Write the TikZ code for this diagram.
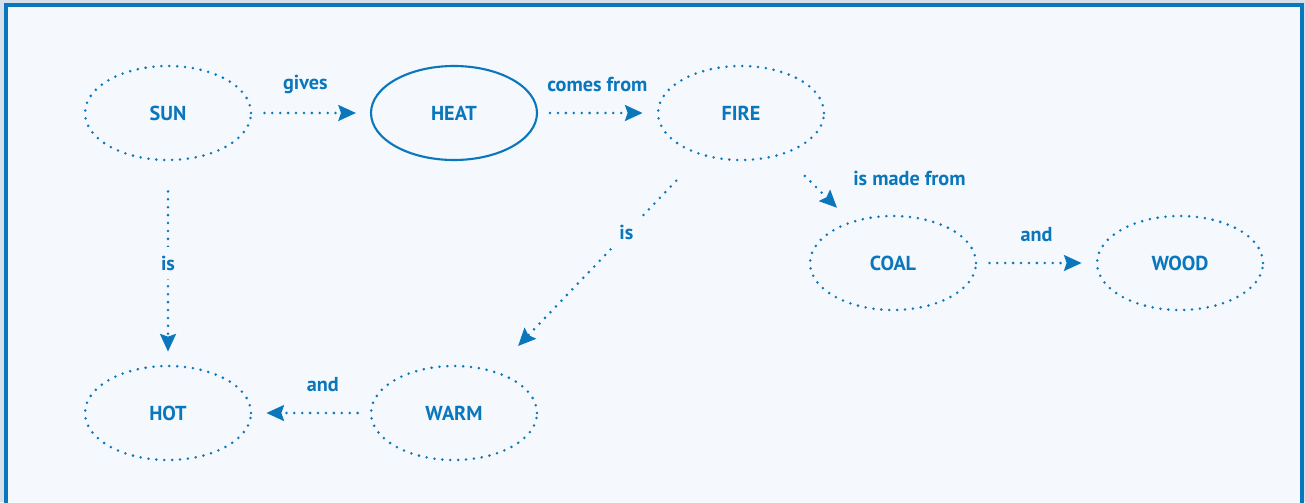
\documentclass[tikz,border=0pt]{standalone}
\usepackage{fontspec}
\setmainfont{PT Sans}
\usetikzlibrary{arrows.meta,shapes.geometric}

\definecolor{mapblue}{HTML}{0A77BD}
\definecolor{mapbg}{HTML}{F5F8FC}
\definecolor{mapedge}{HTML}{D6E0ED}

\begin{document}
\begin{tikzpicture}[
  font=\fontsize{11.5}{13}\selectfont\bfseries,
  dotline/.style={line width=1.6pt, dash pattern=on 0pt off 4.5pt, line cap=round},
  idea/.style={ellipse, draw=mapblue, dotline, text=mapblue,
    minimum width=3.32cm, minimum height=1.88cm, inner sep=0pt},
  link/.style={draw=mapblue, dotline, -{Stealth[length=10pt,width=9pt,inset=1.5pt]},
    shorten <=0.24cm, shorten >=0.28cm},
  tag/.style={text=mapblue},
  word/.style={text=mapblue, fill=mapbg, inner sep=5pt}
]
  % Frame
  \clip (0,0) rectangle (26.1,10.04);
  \fill[mapedge] (0,0) rectangle (26.1,10.04);
  \draw[mapblue, line width=2pt, fill=mapbg] (0.12,-0.5) rectangle (26.04,9.94);

  % Concepts
  \node[idea] (SUN)  at (3.36, 7.78) {SUN};
  \node[idea, solid, line width=1.2pt] (HEAT) at (9.08, 7.78) {HEAT};
  \node[idea] (FIRE) at (14.82, 7.78) {FIRE};
  \node[idea] (COAL) at (17.86, 4.78) {COAL};
  \node[idea] (WOOD) at (23.6, 4.78) {WOOD};
  \node[idea] (HOT)  at (3.36, 1.78) {HOT};
  \node[idea] (WARM) at (9.08, 1.78) {WARM};

  % Links across the top
  \draw[link] (SUN) -- node[tag, pos=.45, yshift=0.58cm] {gives} (HEAT);
  \draw[link] (HEAT) -- node[tag, yshift=0.58cm] {comes from} (FIRE);

  % Fire branches
  \draw[link, shorten <=0.6cm, shorten >=0.38cm] (FIRE) --
    node[tag, anchor=west, xshift=0.58cm, yshift=0.2cm] {is made from} (COAL);
  \draw[link] (COAL) -- node[tag, yshift=0.56cm] {and} (WOOD);
  \draw[link, shorten <=0.7cm, shorten >=0.68cm] (FIRE) -- node[word, pos=.36] {is} (WARM);

  % Bottom row
  \draw[link, shorten <=0.6cm, shorten >=0.26cm] (SUN) -- node[word] {is} (HOT);
  \draw[link] (WARM) -- node[tag, pos=.4, yshift=0.56cm] {and} (HOT);

\end{tikzpicture}
\end{document}
